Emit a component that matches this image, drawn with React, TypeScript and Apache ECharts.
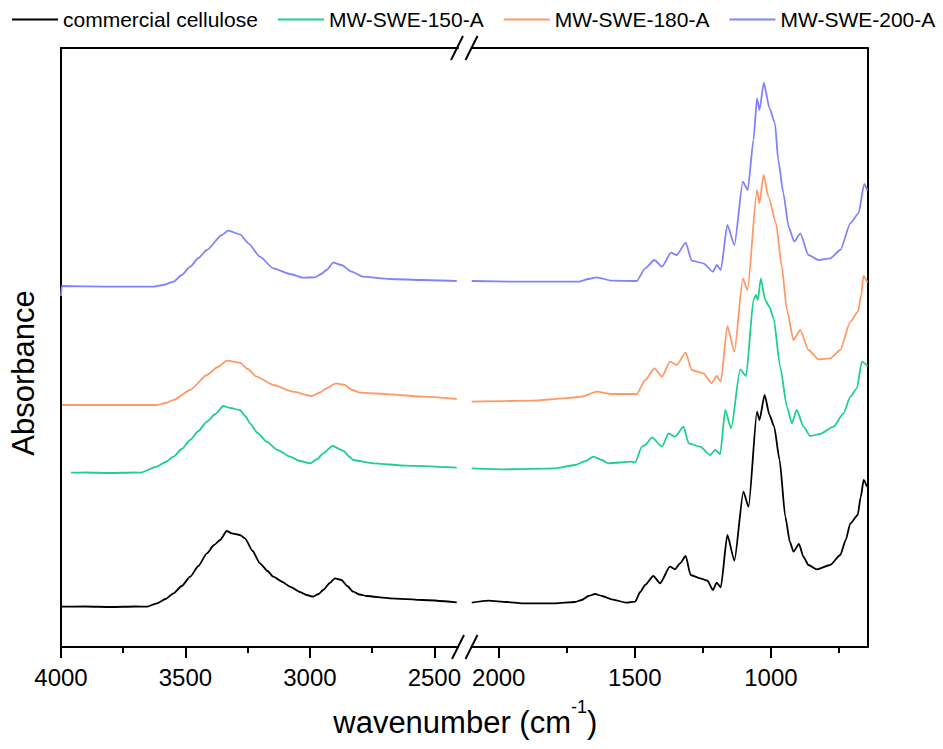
import React, { useEffect, useRef } from "react";
import * as echarts from "echarts";

// ---------- data (wavenumber cm-1, offset absorbance a.u.) ----------
const seriesNames = ["commercial cellulose", "MW-SWE-150-A", "MW-SWE-180-A", "MW-SWE-200-A"];
const seriesColors = ["#000000", "#1fcf8c", "#ff9a66", "#8282ff"];

const cellulose: number[][] = [
  [4000, 0.403], [3900, 0.405], [3800, 0.4], [3700, 0.405], [3655, 0.403], [3615, 0.437], [3580, 0.48],
  [3548, 0.537], [3515, 0.61], [3481, 0.703], [3448, 0.81], [3414, 0.937], [3385, 1.02], [3361, 1.07],
  [3334, 1.16], [3314, 1.137], [3281, 1.12], [3261, 1.087], [3230, 0.96], [3201, 0.837], [3170, 0.76],
  [3147, 0.703], [3110, 0.65], [3080, 0.603], [3040, 0.55], [3013, 0.52], [2987, 0.503], [2965, 0.53],
  [2947, 0.57], [2920, 0.64], [2900, 0.687], [2873, 0.67], [2850, 0.61], [2826, 0.553], [2800, 0.525],
  [2773, 0.51], [2679, 0.487], [2545, 0.47], [2410, 0.447],
  [2099, 0.443], [2038, 0.463], [1970, 0.45], [1915, 0.437], [1793, 0.437], [1720, 0.45], [1695, 0.47],
  [1670, 0.51], [1646, 0.53], [1620, 0.51], [1585, 0.477], [1530, 0.443], [1499, 0.453], [1480, 0.55],
  [1462, 0.62], [1432, 0.71], [1407, 0.637], [1371, 0.803], [1352, 0.777], [1334, 0.837], [1313, 0.91],
  [1295, 0.72], [1260, 0.687], [1233, 0.663], [1213, 0.57], [1199, 0.643], [1184, 0.597], [1160, 1.12],
  [1134, 0.863], [1101, 1.553], [1082, 1.403], [1051, 2.353], [1042, 2.27], [1023, 2.52], [1005, 2.32],
  [988, 2.203], [968, 1.87], [947, 1.303], [930, 1.05], [917, 0.953], [897, 1.03], [880, 0.9], [862, 0.82],
  [831, 0.777], [782, 0.82], [745, 0.92], [725, 1.07], [708, 1.237], [681, 1.32], [670, 1.5], [659, 1.67],
  [647, 1.603],
];

const swe150: number[][] = [
  [3960, 1.743], [3900, 1.745], [3800, 1.74], [3700, 1.745], [3682, 1.743], [3615, 1.803], [3580, 1.85],
  [3548, 1.903], [3515, 1.98], [3481, 2.07], [3448, 2.16], [3414, 2.253], [3380, 2.33], [3348, 2.41],
  [3320, 2.39], [3281, 2.37], [3260, 2.31], [3241, 2.237], [3210, 2.14], [3174, 2.053], [3130, 1.97],
  [3080, 1.903], [3040, 1.86], [3000, 1.837], [2970, 1.88], [2947, 1.937], [2909, 2.01], [2866, 1.963],
  [2840, 1.9], [2826, 1.87], [2746, 1.837], [2612, 1.813], [2410, 1.793],
  [2099, 1.787], [1977, 1.777], [1793, 1.787], [1720, 1.82], [1680, 1.86], [1652, 1.903], [1620, 1.87],
  [1597, 1.837], [1511, 1.853], [1499, 1.843], [1474, 2.003], [1462, 2.02], [1437, 2.097], [1400, 2.003],
  [1376, 2.137], [1352, 2.103], [1321, 2.203], [1302, 2.037], [1260, 2.003], [1223, 1.92], [1205, 1.97],
  [1186, 1.93], [1168, 2.37], [1146, 2.187], [1113, 2.777], [1091, 2.71], [1064, 3.47], [1055, 3.52],
  [1048, 3.47], [1037, 3.687], [1021, 3.47], [1005, 3.4], [990, 3.287], [966, 2.803], [941, 2.403],
  [923, 2.237], [905, 2.37], [880, 2.203], [856, 2.11], [819, 2.13], [770, 2.203], [733, 2.337],
  [708, 2.503], [684, 2.587], [666, 2.853], [645, 2.81],
];

const swe180: number[][] = [
  [3996, 2.42], [3900, 2.42], [3749, 2.42], [3615, 2.42], [3580, 2.44], [3548, 2.47], [3481, 2.57],
  [3414, 2.72], [3370, 2.8], [3334, 2.863], [3281, 2.843], [3250, 2.78], [3214, 2.703], [3147, 2.62],
  [3067, 2.553], [2993, 2.51], [2960, 2.545], [2933, 2.587], [2896, 2.637], [2860, 2.62], [2830, 2.57],
  [2799, 2.543], [2679, 2.527], [2545, 2.503], [2410, 2.48],
  [2099, 2.453], [1879, 2.463], [1756, 2.487], [1695, 2.503], [1640, 2.553], [1585, 2.53], [1499, 2.53],
  [1493, 2.527], [1462, 2.67], [1428, 2.787], [1400, 2.703], [1371, 2.853], [1346, 2.82], [1313, 2.943],
  [1291, 2.77], [1248, 2.737], [1218, 2.637], [1199, 2.71], [1184, 2.653], [1160, 3.21], [1134, 2.953],
  [1103, 3.687], [1086, 3.57], [1051, 4.57], [1042, 4.437], [1027, 4.72], [1009, 4.503], [981, 4.237],
  [960, 3.803], [941, 3.37], [917, 3.07], [892, 3.17], [862, 2.97], [825, 2.877], [782, 2.887],
  [745, 2.97], [708, 3.253], [680, 3.353], [668, 3.52], [660, 3.71], [645, 3.643],
];

const swe200: number[][] = [
  [4000, 3.51], [3997, 3.61], [3815, 3.603], [3629, 3.603], [3590, 3.62], [3548, 3.653], [3515, 3.72],
  [3481, 3.803], [3448, 3.89], [3414, 3.97], [3354, 4.12], [3328, 4.163], [3281, 4.127], [3247, 4.037],
  [3201, 3.903], [3147, 3.787], [3080, 3.73], [3027, 3.693], [2980, 3.697], [2955, 3.73], [2933, 3.77],
  [2906, 3.843], [2873, 3.82], [2833, 3.753], [2786, 3.703], [2679, 3.68], [2545, 3.67], [2410, 3.66],
  [2099, 3.66], [1928, 3.653], [1707, 3.653], [1670, 3.68], [1640, 3.697], [1585, 3.663], [1493, 3.66],
  [1462, 3.787], [1428, 3.87], [1400, 3.803], [1367, 3.943], [1346, 3.92], [1313, 4.043], [1291, 3.863],
  [1248, 3.837], [1213, 3.753], [1199, 3.82], [1184, 3.77], [1160, 4.22], [1134, 4.02], [1103, 4.653],
  [1085, 4.57], [1064, 5.07], [1051, 5.487], [1042, 5.37], [1026, 5.643], [1005, 5.387], [985, 5.237],
  [973, 4.87], [954, 4.537], [935, 4.203], [914, 4.053], [892, 4.137], [862, 3.92], [825, 3.87],
  [782, 3.887], [745, 3.97], [708, 4.237], [678, 4.337], [657, 4.63], [645, 4.563],
];

const allSeries = [cellulose, swe150, swe180, swe200];

// broken x axis
const leftRange = [2405, 4000];
const rightRange = [645, 2100];
const breakAt = 2300;
const leftTicks = [4000, 3500, 3000, 2500];
const leftMinorTicks = [3750, 3250, 2750];
const rightTicks = [2000, 1500, 1000];
const rightMinorTicks = [1750, 1250, 750];
const yRange = [0, 5.99];

const FONT = '"Liberation Sans", Arial, sans-serif';

export default function App() {
  const ref = useRef<HTMLDivElement>(null);

  useEffect(() => {
    if (!ref.current) return;
    const chart = echarts.init(ref.current, undefined, { renderer: "svg" });

    const axisLine = { show: true, lineStyle: { color: "#000", width: 2 } };
    const majorX = (gridIndex: number, range: number[], ticks: number[]) => ({
      type: "value",
      gridIndex,
      min: range[0],
      max: range[1],
      inverse: true,
      position: "bottom",
      axisLine,
      axisTick: { show: true, length: 11, lineStyle: { color: "#000", width: 2 }, customValues: ticks },
      axisLabel: {
        show: true, customValues: ticks, color: "#000", fontSize: 24, fontFamily: FONT, margin: 18,
        formatter: (v: number) => String(v),
      },
      splitLine: { show: false },
    });
    const minorX = (gridIndex: number, range: number[], ticks: number[]) => ({
      type: "value",
      gridIndex,
      min: range[0],
      max: range[1],
      inverse: true,
      position: "bottom",
      axisLine: { show: false },
      axisTick: { show: true, length: 6, lineStyle: { color: "#000", width: 2 }, customValues: ticks },
      axisLabel: { show: false },
      splitLine: { show: false },
    });
    const topX = (gridIndex: number, range: number[]) => ({
      type: "value",
      gridIndex,
      min: range[0],
      max: range[1],
      inverse: true,
      position: "top",
      axisLine,
      axisTick: { show: false },
      axisLabel: { show: false },
      splitLine: { show: false },
    });

    const series: any[] = [];
    allSeries.forEach((d, i) => {
      const common = {
        type: "line",
        name: seriesNames[i],
        symbol: "none",
        showSymbol: false,
        smooth: 0.2,
        smoothMonotone: "x",
        lineStyle: { color: seriesColors[i], width: 1.8 },
        itemStyle: { color: seriesColors[i] },
        z: 3 + i,
      };
      series.push({ ...common, xAxisIndex: 0, yAxisIndex: 0, data: d.filter((p) => p[0] >= breakAt) });
      series.push({ ...common, xAxisIndex: 3, yAxisIndex: 1, data: d.filter((p) => p[0] < breakAt) });
    });

    const slash = (cx: number, cy: number) => ({
      type: "line",
      shape: { x1: cx + 6, y1: cy - 12, x2: cx - 6, y2: cy + 12 },
      style: { stroke: "#000", lineWidth: 2 },
      z: 100,
    });

    chart.setOption({
      animation: false,
      backgroundColor: "#fff",
      legend: {
        data: seriesNames,
        left: 12,
        top: 9,
        padding: 0,
        icon: "rect",
        itemWidth: 46,
        itemHeight: 2,
        itemGap: 20,
        textStyle: { color: "#000", fontSize: 21, fontFamily: FONT },
      },
      grid: [
        { left: 61, top: 48, width: 397, height: 599 },
        { left: 471.5, top: 48, width: 396, height: 599 },
      ],
      xAxis: [
        majorX(0, leftRange, leftTicks),
        minorX(0, leftRange, leftMinorTicks),
        topX(0, leftRange),
        majorX(1, rightRange, rightTicks),
        minorX(1, rightRange, rightMinorTicks),
        topX(1, rightRange),
      ],
      yAxis: [
        {
          type: "value", gridIndex: 0, min: yRange[0], max: yRange[1], position: "left",
          axisLine, axisTick: { show: false }, axisLabel: { show: false }, splitLine: { show: false },
        },
        {
          type: "value", gridIndex: 1, min: yRange[0], max: yRange[1], position: "right",
          axisLine, axisTick: { show: false }, axisLabel: { show: false }, splitLine: { show: false },
        },
      ],
      series,
      graphic: [
        slash(458, 647), slash(471.5, 647), slash(457, 48), slash(471.5, 48),
        {
          type: "text", x: 23, y: 373, rotation: Math.PI / 2,
          style: { text: "Absorbance", font: `31px ${FONT}`, fill: "#000", align: "center", verticalAlign: "middle" },
        },
        {
          type: "text", x: 571, y: 722,
          style: { text: "wavenumber (cm", font: `31px ${FONT}`, fill: "#000", align: "right", verticalAlign: "middle" },
        },
        {
          type: "text", x: 571, y: 707,
          style: { text: "-1", font: `18px ${FONT}`, fill: "#000", align: "left", verticalAlign: "middle" },
        },
        {
          type: "text", x: 587, y: 722,
          style: { text: ")", font: `31px ${FONT}`, fill: "#000", align: "left", verticalAlign: "middle" },
        },
      ],
    });

    return () => chart.dispose();
  }, []);

  return (
    <div
      ref={ref}
      style={{ position: "fixed", left: 0, top: 0, width: 943, height: 749, background: "#fff" }}
    />
  );
}
